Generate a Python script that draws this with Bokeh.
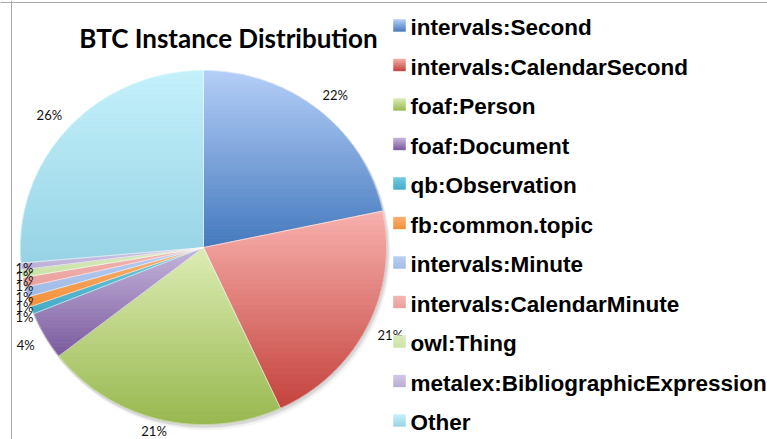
import numpy as np
from bokeh.plotting import figure
from bokeh.models import Range1d, Span
from bokeh.core.properties import value
from bokeh.embed import file_html
from bokeh.resources import INLINE

# ---------------- data ----------------
title_text = "BTC Instance Distribution"
categories = ["intervals:Second", "intervals:CalendarSecond", "foaf:Person",
              "foaf:Document", "qb:Observation", "fb:common.topic",
              "intervals:Minute", "intervals:CalendarMinute", "owl:Thing",
              "metalex:BibliographicExpression", "Other"]
shares = [21.7, 21.4, 21.4, 4.4, 0.7, 0.9, 0.9, 0.9, 0.7, 0.6, 26.4]

# gradient colours (top, bottom) per category
colors_top = ["#b4cff7", "#f8b1ae", "#dcedb4", "#c6b6dc", "#6fcbe3", "#fbb273",
              "#b7cff3", "#f3b6b4", "#dcecbf", "#d2c8e6", "#c4f1fb"]
colors_bottom = ["#4479bd", "#c4423c", "#98b84f", "#7a5a9e", "#43aac6", "#f5913a",
                 "#9fbbe6", "#eba09e", "#cbe2a4", "#bbaed6", "#96d3e5"]

# ---------------- layout (reference pixel space) ----------------
W, H = 767, 439
CX, CY, RX, RY = 203, 247, 183, 177

p = figure(width=W, height=H, x_range=Range1d(0, W), y_range=Range1d(H, 0),
           output_backend="svg", toolbar_location=None, min_border=0,
           outline_line_color=None, x_axis_location=None, y_axis_location=None)
p.grid.visible = False
p.background_fill_color = "white"
p.border_fill_color = "white"


def hex2rgb(h):
    h = h.lstrip("#")
    return np.array([int(h[i:i + 2], 16) for i in (0, 2, 4)], dtype=float)


def mix(c1, c2, t):
    a, b = hex2rgb(c1), hex2rgb(c2)
    c = a + (b - a) * t
    return "#%02x%02x%02x" % tuple(int(round(v)) for v in c)


def clip(poly, y, keep_greater):
    out = []
    n = len(poly)
    for i in range(n):
        P = poly[i]
        Q = poly[(i + 1) % n]
        pin = P[1] >= y if keep_greater else P[1] <= y
        qin = Q[1] >= y if keep_greater else Q[1] <= y
        if pin:
            out.append(P)
        if pin != qin:
            t = (y - P[1]) / (Q[1] - P[1])
            out.append((P[0] + t * (Q[0] - P[0]), y))
    return out


def gradient_bands(poly, ctop, cbot, nb):
    ys = [q[1] for q in poly]
    y0, y1 = min(ys), max(ys)
    xs_out, ys_out, cols = [], [], []
    edges = np.linspace(y0, y1, nb + 1)
    for k in range(nb):
        a, b = edges[k], edges[k + 1]
        part = clip(clip(poly, a, True), b + 0.2, False)
        if len(part) < 3:
            continue
        xs_out.append([q[0] for q in part])
        ys_out.append([q[1] for q in part])
        t = ((a + b) / 2 - y0) / (y1 - y0) if y1 > y0 else 0.5
        cols.append(mix(ctop, cbot, t))
    return xs_out, ys_out, cols


def pt(theta_deg):
    th = np.radians(theta_deg)
    return CX + RX * np.sin(th), CY - RY * np.cos(th)


total = float(sum(shares))
fracs = [s / total for s in shares]
starts = np.cumsum([0] + fracs[:-1]) * 360.0
ends = np.cumsum(fracs) * 360.0

# soft shadow
for dx, dy, a in [(1, 2, 0.07), (2, 3, 0.05), (3, 5, 0.04)]:
    p.ellipse(x=[CX + dx], y=[CY + dy], width=2 * RX + 2, height=2 * RY + 2,
              fill_color="#000000", fill_alpha=a, line_color=None)

slice_polys_x, slice_polys_y = [], []
bx, by, bc = [], [], []
for i in range(len(categories)):
    a0, a1 = starts[i], ends[i]
    n = max(3, int((a1 - a0) / 0.5))
    arc = [pt(t) for t in np.linspace(a0, a1, n)]
    poly = [(CX, CY)] + arc
    slice_polys_x.append([q[0] for q in poly])
    slice_polys_y.append([q[1] for q in poly])
    xs, ys, cs = gradient_bands(poly, colors_top[i], colors_bottom[i], 40)
    bx += xs
    by += ys
    bc += cs

p.patches(xs=bx, ys=by, fill_color=bc, line_color=bc, line_width=0.6)
p.patches(xs=slice_polys_x, ys=slice_polys_y, fill_color=None,
          line_color="white", line_width=0.6, line_alpha=0.6)

# percentage labels
lab_x, lab_y, lab_t = [], [], []
for i in range(len(categories)):
    mid = (starts[i] + ends[i]) / 2
    th = np.radians(mid)
    s, c = np.sin(th), -np.cos(th)
    ex, ey = pt(mid)
    txt = "%d%%" % int(round(shares[i] / total * 100))
    hw, hh = 4.0 * len(txt), 5.0
    x = ex + 14 * s + hw * s
    y = ey + 14 * c + hh * c
    x = max(x, 16 + hw)
    y = min(y, 435 - hh)
    lab_x.append(x)
    lab_y.append(y)
    lab_t.append(txt)

p.text(x=lab_x, y=lab_y, text=lab_t, text_font=value("Lato"), text_font_size="13px",
       text_color="#111111", text_align="center", text_baseline="middle")

# legend
leg_x, leg_y = [], []
mx, my, mc = [], [], []
for i, name in enumerate(categories):
    yc = 27 + 39.5 * i
    leg_x.append(410)
    leg_y.append(yc)
    sq = [(393, yc - 8), (405, yc - 8), (405, yc + 4), (393, yc + 4)]
    xs, ys, cs = gradient_bands(sq, colors_top[i], colors_bottom[i], 6)
    mx += xs
    my += ys
    mc += cs
p.patches(xs=mx, ys=my, fill_color=mc, line_color=mc, line_width=0.4)
p.text(x=leg_x, y=leg_y, text=categories, text_font=value("Liberation Sans"),
       text_font_style="bold", text_font_size="22.5px", text_color="#000000",
       text_align="left", text_baseline="middle")

# title
p.text(x=[228], y=[37], text=[title_text], text_font=value("Lato"),
       text_font_style="bold", text_font_size="26px", text_color="#000000",
       text_align="center", text_baseline="middle")

# chart frame
p.add_layout(Span(location=11, dimension="height", line_color="#a8a8a8", line_width=1))
p.add_layout(Span(location=2, dimension="width", line_color="#a8a8a8", line_width=1))

open("out.html", "w").write(file_html(p, INLINE))
